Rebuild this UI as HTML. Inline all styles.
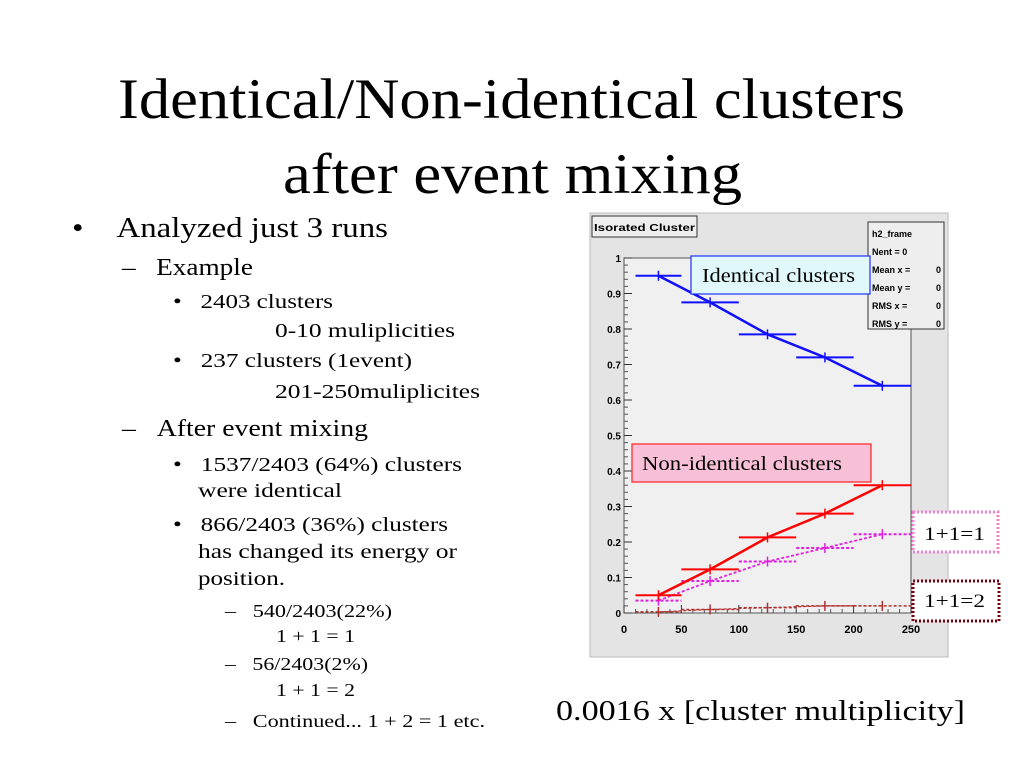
<!DOCTYPE html>
<html><head><meta charset="utf-8"><style>
body{margin:0;width:1024px;height:768px;background:#fff;position:relative;overflow:hidden;font-family:"Liberation Serif","Times New Roman",serif;color:#000}
.t{position:absolute;white-space:nowrap;line-height:1;transform-origin:0 0}
</style></head><body>
<div class="t" data-w="787" style="left:118px;top:71px;font-size:57px">Identical/Non-identical clusters</div>
<div class="t" data-w="459" style="left:283px;top:146px;font-size:57px">after event mixing</div>

<div class="t" data-w="316" style="left:72px;top:214px;font-size:29px">•&nbsp;&nbsp;&nbsp;&nbsp;Analyzed just 3 runs</div>
<div class="t" data-w="131" style="left:122px;top:256px;font-size:24px">–&nbsp;&nbsp;&nbsp;Example</div>
<div class="t" data-w="160" style="left:173px;top:292px;font-size:20px">•&nbsp;&nbsp;&nbsp;2403 clusters</div>
<div class="t" data-w="180" style="left:275px;top:321px;font-size:20px">0-10 muliplicities</div>
<div class="t" data-w="239" style="left:173px;top:351px;font-size:20px">•&nbsp;&nbsp;&nbsp;237 clusters (1event)</div>
<div class="t" data-w="205" style="left:275px;top:382px;font-size:20px">201-250muliplicites</div>
<div class="t" data-w="246" style="left:122px;top:417px;font-size:24px">–&nbsp;&nbsp;&nbsp;After event mixing</div>
<div class="t" data-w="289" style="left:173px;top:455px;font-size:20px">•&nbsp;&nbsp;&nbsp;1537/2403 (64%) clusters</div>
<div class="t" data-w="144" style="left:198px;top:481px;font-size:20px">were identical</div>
<div class="t" data-w="275" style="left:173px;top:515px;font-size:20px">•&nbsp;&nbsp;&nbsp;866/2403 (36%) clusters</div>
<div class="t" data-w="259" style="left:198px;top:542px;font-size:20px">has changed its energy or</div>
<div class="t" data-w="87" style="left:198px;top:569px;font-size:20px">position.</div>
<div class="t" data-w="167" style="left:225px;top:602px;font-size:18px">–&nbsp;&nbsp;&nbsp;540/2403(22%)</div>
<div class="t" data-w="79" style="left:276px;top:627px;font-size:18px">1 + 1 = 1</div>
<div class="t" data-w="143" style="left:225px;top:655px;font-size:18px">–&nbsp;&nbsp;&nbsp;56/2403(2%)</div>
<div class="t" data-w="79" style="left:276px;top:681px;font-size:18px">1 + 1 = 2</div>
<div class="t" data-w="260" style="left:225px;top:712px;font-size:18px">–&nbsp;&nbsp;&nbsp;Continued... 1 + 2 = 1 etc.</div>

<div class="t" data-w="409" style="left:556px;top:697px;font-size:29px">0.0016 x [cluster multiplicity]</div>

<svg id="chart" width="1024" height="768" style="position:absolute;left:0;top:0" xmlns="http://www.w3.org/2000/svg"></svg>

<script>
document.querySelectorAll('.t[data-w]').forEach(el=>{
  const w=el.getBoundingClientRect().width;
  const target=+el.getAttribute('data-w');
  if(w>0) el.style.transform='scaleX('+(target/w)+')';
});

const xCenters=[30,75,125,175,225];
const xLow=[10,50,100,150,200];
const xHigh=[50,100,150,200,250];
const identical=[0.95,0.875,0.785,0.72,0.64];
const nonIdentical=[0.05,0.123,0.213,0.28,0.36];
const onePlusOneEq1=[0.035,0.09,0.145,0.183,0.222];
const onePlusOneEq2=[0.003,0.01,0.015,0.02,0.02];
const yTicks=[0,0.1,0.2,0.3,0.4,0.5,0.6,0.7,0.8,0.9,1];
const yTickLabels=["0","0.1","0.2","0.3","0.4","0.5","0.6","0.7","0.8","0.9","1"];
const xTicks=[0,50,100,150,200,250];

const X0=624,X1=911,Y0=613,Y1=258;
const sx=v=>X0+(v/250)*(X1-X0);
const sy=v=>Y0-v*(Y0-Y1);
const svg=document.getElementById('chart');
const NS='http://www.w3.org/2000/svg';
function mk(tag,attrs,parent){const e=document.createElementNS(NS,tag);for(const k in attrs)e.setAttribute(k,attrs[k]);(parent||svg).appendChild(e);return e;}

let e;
e=mk('rect',{x:590,y:213,width:358,height:444,fill:'#e4e4e4',stroke:'#bbb'});


e=mk('rect',{x:X0,y:Y1,width:X1-X0,height:Y0-Y1,fill:'#f0f0f0',stroke:'#555'});



yTicks.forEach((v,i)=>{
  mk('line',{x1:X0,x2:X0+8,y1:sy(v),y2:sy(v),stroke:'#333'});
  if(i<yTicks.length-1) for(let k=1;k<5;k++){const vv=v+k*0.02;mk('line',{x1:X0,x2:X0+4,y1:sy(vv),y2:sy(vv),stroke:'#555'});}
  e=mk('text',{x:X0-3,y:sy(v)+4,'text-anchor':'end','font-family':'Liberation Sans, sans-serif','font-size':10,'font-weight':'bold'});
  e.textContent=yTickLabels[i];
  
  
});
xTicks.forEach((v,i)=>{
  mk('line',{x1:sx(v),x2:sx(v),y1:Y0,y2:Y0-8,stroke:'#333'});
  if(i<xTicks.length-1) for(let k=1;k<5;k++){const vv=v+k*10;mk('line',{x1:sx(vv),x2:sx(vv),y1:Y0,y2:Y0-4,stroke:'#555'});}
  e=mk('text',{x:sx(v),y:Y0+20,'text-anchor':'middle','font-family':'Liberation Sans, sans-serif','font-size':11,'font-weight':'bold'});
  e.textContent=String(v);
  
  
});

function series(vals,color,width,dash,name){
  const g=mk('g',{});
  
  
  mk('polyline',{points:xCenters.map((x,i)=>sx(x)+','+sy(vals[i])).join(' '),fill:'none',stroke:color,'stroke-width':width,'stroke-dasharray':dash},g);
  vals.forEach((v,i)=>{
    mk('line',{x1:sx(xLow[i]),x2:sx(xHigh[i]),y1:sy(v),y2:sy(v),stroke:color,'stroke-width':width>1.5?2:1.5,'stroke-dasharray':dash},g);
    mk('line',{x1:sx(xCenters[i]),x2:sx(xCenters[i]),y1:sy(v)-5,y2:sy(v)+5,stroke:color,'stroke-width':1.5},g);
  });
}
series(onePlusOneEq2,'#b03030',1.2,'3,2','series-1p1eq2');
series(onePlusOneEq1,'#e020e0',1.8,'3,2','series-1p1eq1');
series(nonIdentical,'#ff0000',2.5,'','series-non-identical');
series(identical,'#1010ff',2.5,'','series-identical');

e=mk('rect',{x:592,y:216,width:105,height:21,fill:'#eee',stroke:'#333'});


e=mk('text',{x:594,y:231,'font-family':'Liberation Sans, sans-serif','font-size':10,'font-weight':'bold',textLength:101,lengthAdjust:'spacingAndGlyphs'});e.textContent='Isorated Cluster';


e=mk('rect',{x:868,y:222,width:76,height:107,fill:'#eee',stroke:'#333'});


['h2_frame','Nent = 0','Mean x =','Mean y =','RMS x  =','RMS y  ='].forEach((s,i)=>{
  e=mk('text',{x:872,y:237+i*18,'font-family':'Liberation Sans, sans-serif','font-size':9,'font-weight':'bold','xml:space':'preserve'});e.textContent=s;
  
  
  if(i>=2){
    e=mk('text',{x:941,y:237+i*18,'text-anchor':'end','font-family':'Liberation Sans, sans-serif','font-size':9,'font-weight':'bold'});e.textContent='0';
    
    
  }
});
e=mk('rect',{x:691,y:256,width:179,height:38,fill:'#e0f8fa',stroke:'#2030ff','stroke-width':1.2});


e=mk('text',{x:702,y:282,'font-family':'Liberation Serif, serif','font-size':20,textLength:153,lengthAdjust:'spacingAndGlyphs'});e.textContent='Identical clusters';


e=mk('rect',{x:632,y:444,width:239,height:38,fill:'#f8c0d8',stroke:'#ff2020','stroke-width':1.2});


e=mk('text',{x:642,y:470,'font-family':'Liberation Serif, serif','font-size':20,textLength:200,lengthAdjust:'spacingAndGlyphs'});e.textContent='Non-identical clusters';


e=mk('rect',{x:913,y:512,width:85,height:40,fill:'#fff',stroke:'#f080d0','stroke-width':3,'stroke-dasharray':'2,2'});


e=mk('text',{x:924,y:540,'font-family':'Liberation Serif, serif','font-size':19,textLength:61,lengthAdjust:'spacingAndGlyphs'});e.textContent='1+1=1';


e=mk('rect',{x:913,y:581,width:86,height:40,fill:'#fff',stroke:'#7a0010','stroke-width':3,'stroke-dasharray':'2,2'});


e=mk('text',{x:924,y:607,'font-family':'Liberation Serif, serif','font-size':19,textLength:61,lengthAdjust:'spacingAndGlyphs'});e.textContent='1+1=2';


</script>
</body></html>
